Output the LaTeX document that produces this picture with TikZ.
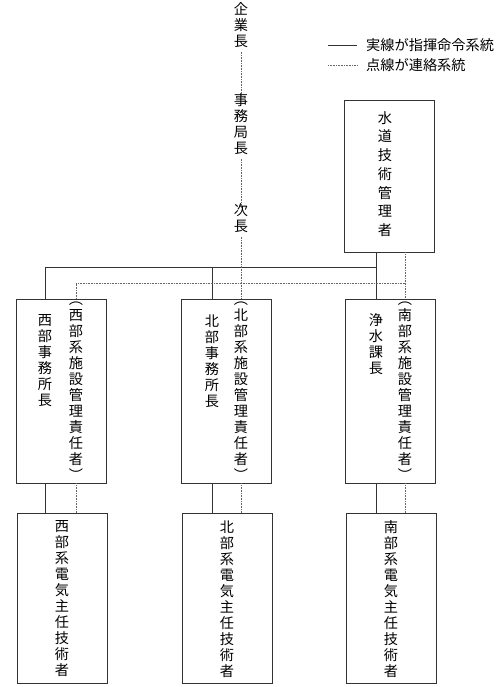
\documentclass[tikz,border=0pt]{standalone}
\usepackage{fontspec}
\usepackage{tikz}
\newfontfamily\jpfont{Noto Sans CJK JP}

\begin{document}
\begin{tikzpicture}[x=1pt,y=-1pt,
	every node/.style={font=\jpfont\fontsize{14.2}{16}\selectfont,inner sep=0pt,align=center},
	post/.style={draw=black!80,line width=.7pt,minimum width=90pt},
	cmd/.style={draw=black!80,line width=.7pt},
	lnk/.style={draw=black!60,line width=.6pt,densely dotted}]
	\useasboundingbox (0,0) rectangle (501,687);
	% legend
	\coordinate (la) at (328,45);
	\coordinate (lb) at (328,65);
	\node[anchor=west] (lsolid) at (366,45){実線が指揮命令系統};
	\node[anchor=west] (ldot) at (366,65){点線が連絡系統};
	\draw[cmd] (la)--(lsolid.west -| 357,0);
	\draw[lnk] (lb)--(ldot.west -| 357,0);
	
	% chain on the left of the head
	\node (kigyo) at (241,25){企\\業\\長};
	\node (kyoku) at (241,124){事\\務\\局\\長};
	\node (jicho) at (241,218){次\\長};
	\draw[lnk] (kigyo.south)++(0,4)--([yshift=-4]kyoku.north);
	\draw[lnk] (kyoku.south)++(0,4)--([yshift=-4]jicho.north);
	
	% head
	\node[post,minimum height=152pt] (tech) at (389,176){};
	\node[font=\jpfont\fontsize{14.2}{18.7}\selectfont] at (385,174){水\\道\\技\\術\\管\\理\\者};
	
	% middle row
	\node[post,minimum height=184pt] (wbox) at (61.5,391){};
	\node[post,minimum height=184pt] (nbox) at (226.5,391){};
	\node[post,minimum height=184pt] (sbox) at (390.5,391){};
	\node (wA) at (45,361){西\\部\\事\\務\\所\\長};
	\node (wB) at (76,391){︵\\西\\部\\系\\施\\設\\管\\理\\責\\任\\者\\︶};
	\node (nA) at (212,361){北\\部\\事\\務\\所\\長};
	\node (nB) at (241,391){︵\\北\\部\\系\\施\\設\\管\\理\\責\\任\\者\\︶};
	\node (sA) at (376,344){浄\\水\\課\\長};
	\node (sB) at (405,391){︵\\南\\部\\系\\施\\設\\管\\理\\責\\任\\者\\︶};
	
	% bottom row
	\node[post,minimum height=170pt] (wlow) at (62,598){};
	\node[post,minimum height=170pt] (nlow) at (227,598){};
	\node[post,minimum height=170pt] (slow) at (391,598){};
	\node at (62,599){西\\部\\系\\電\\気\\主\\任\\技\\術\\者};
	\node at (227,599){北\\部\\系\\電\\気\\主\\任\\技\\術\\者};
	\node at (391,599){南\\部\\系\\電\\気\\主\\任\\技\\術\\者};
	
	% command lines
	\coordinate (cbus) at (0,267);
	\coordinate (lbus) at (0,283);
	\draw[cmd] (tech.south -| sA)--(sbox.north -| sA);
	\draw[cmd] (wbox.north -| wA) |- (cbus -| sA);
	\draw[cmd] (nbox.north -| nA)--(cbus -| nA);
	\draw[cmd] (wbox.south -| wA)--(wlow.north -| wA);
	\draw[cmd] (nbox.south -| nA)--(nlow.north -| nA);
	\draw[cmd] (sbox.south -| sA)--(slow.north -| sA);
	
	% liaison lines
	\draw[lnk] (tech.south -| sB)--(sbox.north -| sB);
	\draw[lnk] (wbox.north -| wB) |- (lbus -| sB);
	\draw[lnk] (jicho.south)++(0,4)--(nbox.north -| jicho);
	\draw[lnk] (wbox.south -| wB)--(wlow.north -| wB);
	\draw[lnk] (nbox.south -| nB)--(nlow.north -| nB);
	\draw[lnk] (sbox.south -| sB)--(slow.north -| sB);
\end{tikzpicture}
\end{document}
